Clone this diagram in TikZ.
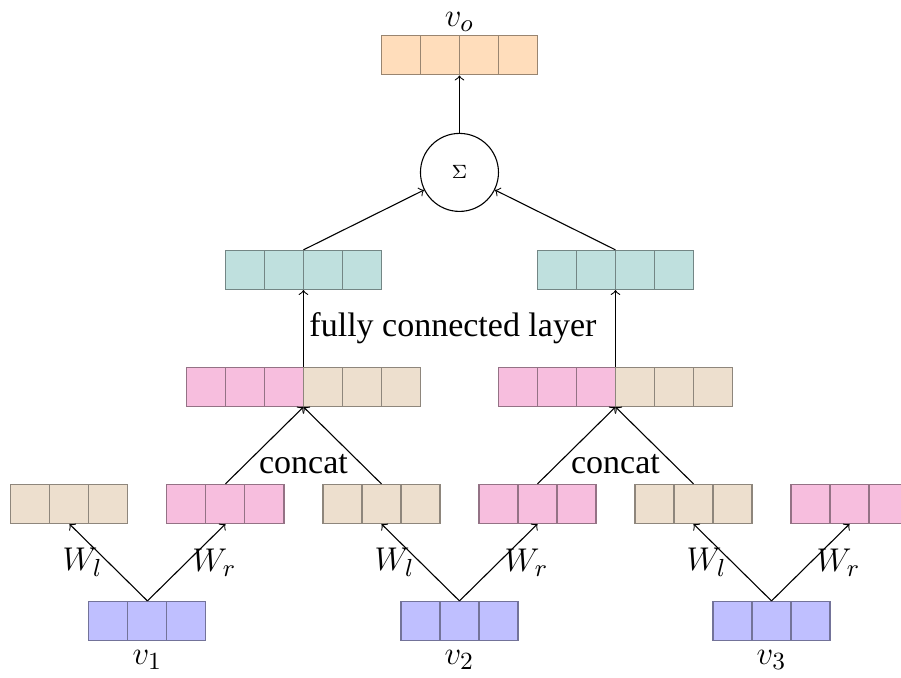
\documentclass[tikz,border=0pt]{standalone}
\usepackage{fontspec}
\setmainfont{Liberation Serif}
\newfontfamily\timesfont{Liberation Serif}
\usetikzlibrary{positioning, fit, calc}
\usepackage{amsmath,amssymb}
\usepackage{xcolor}

\definecolor{vblue}{RGB}{191,191,255}
\definecolor{wbeige}{RGB}{237,223,206}
\definecolor{wpink}{RGB}{247,190,222}
\definecolor{fteal}{RGB}{191,224,222}
\definecolor{oorange}{RGB}{255,221,187}

% row of cells: name, centre, number of cells, colours
\newcommand{\vecrow}[4]{%
  \foreach \col [count=\i] in {#4}
    \node[cell, fill=\col, draw=\col!60!black] (#1-\i) at ($(#2)+({(\i-0.5-#3/2)*0.5},0)$) {};
  \node[fit=(#1-1)(#1-#3), inner sep=0pt] (#1) {};
}

\begin{document}
\begin{tikzpicture}[
      cell/.style={rectangle, minimum size=0.5cm, inner sep=0pt, outer sep=0pt},
      line/.style={draw, ->, thin},
      lbl/.style={font=\timesfont\fontsize{12.4}{14}\selectfont},
      sumnode/.style={circle, draw, minimum size=1cm, inner sep=0pt, font=\fontsize{7}{8}\selectfont}
  ]
  \useasboundingbox (-1.89,-0.72) rectangle (9.66,7.96);

  % input vectors
  \vecrow{v1}{0,0}{3}{vblue,vblue,vblue}
  \vecrow{v2}{4,0}{3}{vblue,vblue,vblue}
  \vecrow{v3}{8,0}{3}{vblue,vblue,vblue}
  \node [lbl, below=0pt of v1] (lv1) {$v_1$};
  \node [lbl, below=0pt of v2] (lv2) {$v_2$};
  \node [lbl, below=0pt of v3] (lv3) {$v_3$};

  % left / right projections
  \vecrow{wl1}{-1,1.5}{3}{wbeige,wbeige,wbeige}
  \vecrow{wr1}{1,1.5}{3}{wpink,wpink,wpink}
  \vecrow{wl2}{3,1.5}{3}{wbeige,wbeige,wbeige}
  \vecrow{wr2}{5,1.5}{3}{wpink,wpink,wpink}
  \vecrow{wl3}{7,1.5}{3}{wbeige,wbeige,wbeige}
  \vecrow{wr3}{9,1.5}{3}{wpink,wpink,wpink}

  % concatenations
  \vecrow{cat1}{2,3}{6}{wpink,wpink,wpink,wbeige,wbeige,wbeige}
  \vecrow{cat2}{6,3}{6}{wpink,wpink,wpink,wbeige,wbeige,wbeige}

  % fully connected outputs
  \vecrow{fc1}{2,4.5}{4}{fteal,fteal,fteal,fteal}
  \vecrow{fc2}{6,4.5}{4}{fteal,fteal,fteal,fteal}

  \node [sumnode] (sum) at (4,5.75) {$\Sigma$};

  \vecrow{out}{4,7.25}{4}{oorange,oorange,oorange,oorange}
  \node [lbl, above=-2pt of out] (lout) {$v_o$};

  \path [line] (v1.north) -- node[lbl, midway, left, inner sep=2pt] {$W_l$} (wl1.south);
  \path [line] (v1.north) -- node[lbl, midway, right, inner sep=2pt] {$W_r$} (wr1.south);
  \path [line] (v2.north) -- node[lbl, midway, left, inner sep=2pt] {$W_l$} (wl2.south);
  \path [line] (v2.north) -- node[lbl, midway, right, inner sep=2pt] {$W_r$} (wr2.south);
  \path [line] (v3.north) -- node[lbl, midway, left, inner sep=2pt] {$W_l$} (wl3.south);
  \path [line] (v3.north) -- node[lbl, midway, right, inner sep=2pt] {$W_r$} (wr3.south);

  \path [line] (wr1.north) -- (cat1.south);
  \path [line] (wl2.north) -- (cat1.south);
  \path [line] (wr2.north) -- (cat2.south);
  \path [line] (wl3.north) -- (cat2.south);
  \node [lbl, anchor=south] (cc1) at ($(wr1.north)!0.5!(wl2.north)$) {concat};
  \node [lbl, anchor=south] (cc2) at ($(wr2.north)!0.5!(wl3.north)$) {concat};

  \path [line] (cat1.north) -- node[lbl, midway, right, inner sep=2pt] {fully connected layer} (fc1.south);
  \path [line] (cat2.north) -- (fc2.south);

  \path [line] (fc1.north) -- (sum);
  \path [line] (fc2.north) -- (sum);
  \path [line] (sum) -- (out.south);

\end{tikzpicture}
\end{document}
